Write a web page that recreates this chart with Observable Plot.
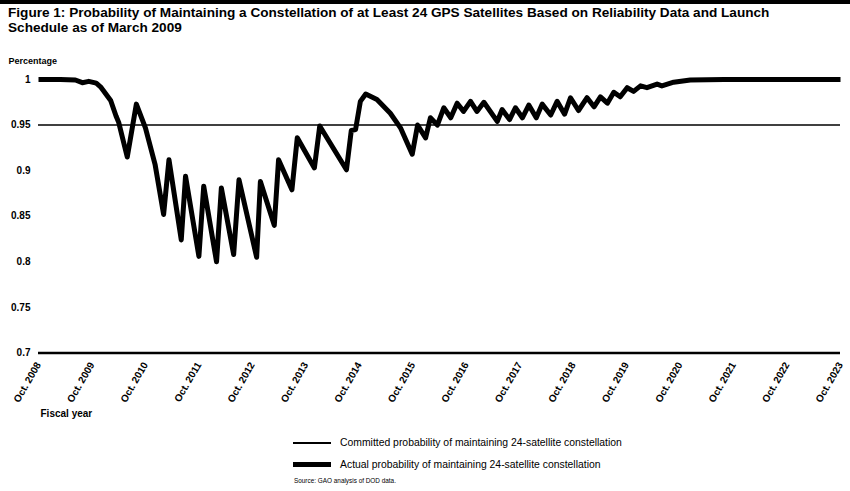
<!DOCTYPE html>
<html><head><meta charset="utf-8">
<script src="https://cdn.jsdelivr.net/npm/d3@7"></script>
<script src="https://cdn.jsdelivr.net/npm/@observablehq/plot@0.6"></script>
<style>
body{margin:0;background:#fff;font-family:"Liberation Sans",Arial,sans-serif;color:#000;}
#wrap{position:relative;width:850px;height:491px;overflow:hidden;background:#fff;}
#bar{position:absolute;left:0;top:0;width:850px;height:4px;background:#000;}
#title{position:absolute;left:8px;top:5px;font-weight:bold;font-size:13.6px;line-height:15px;white-space:nowrap;}
#chart{position:absolute;left:0;top:44px;}
#chart svg text{font-weight:bold;}
.lgline{position:absolute;left:293px;width:38px;background:#000;}
.lgtext{position:absolute;left:340px;font-size:10.4px;line-height:12px;white-space:nowrap;}
#source{position:absolute;left:294px;top:476px;font-size:6.4px;line-height:10px;white-space:nowrap;}
</style></head><body>
<div id="wrap">
  <div id="bar"></div>
  <div id="title">Figure 1: Probability of Maintaining a Constellation of at Least 24 GPS Satellites Based on Reliability Data and Launch<br>Schedule as of March 2009</div>
  <div id="chart"></div>
  <div class="lgline" style="top:442px;height:1.5px"></div>
  <div class="lgtext" style="top:437px">Committed probability of maintaining 24-satellite constellation</div>
  <div class="lgline" style="top:462px;height:5px"></div>
  <div class="lgtext" style="top:459px">Actual probability of maintaining 24-satellite constellation</div>
  <div id="source">Source: GAO analysis of DOD data.</div>
</div>
<script>
// Time in decimal years (Oct. 2008 = 2008.75)
const years = [2008.75, 2009.16, 2009.44, 2009.57, 2009.69, 2009.83, 2009.91, 2010.10, 2010.20, 2010.25, 2010.41,
  2010.58, 2010.75, 2010.93, 2011.09, 2011.19, 2011.42, 2011.50, 2011.75, 2011.84, 2012.08,
  2012.17, 2012.40, 2012.50, 2012.83, 2012.90, 2013.16, 2013.24, 2013.49, 2013.59, 2013.91,
  2014.01, 2014.51, 2014.60, 2014.68, 2014.77, 2014.87, 2015.08, 2015.33, 2015.52, 2015.74,
  2015.84, 2015.99, 2016.08, 2016.21, 2016.33, 2016.46, 2016.58, 2016.70, 2016.83, 2016.95,
  2017.08, 2017.33, 2017.42, 2017.56, 2017.67, 2017.80, 2017.92, 2018.06, 2018.17, 2018.33,
  2018.45, 2018.59, 2018.70, 2018.85, 2019.01, 2019.14, 2019.26, 2019.39, 2019.51, 2019.63,
  2019.76, 2019.88, 2020.01, 2020.13, 2020.32, 2020.41, 2020.63, 2020.94, 2021.57, 2023.75];
const actual = [1.000, 1.000, 0.9995, 0.9965, 0.998, 0.996, 0.992, 0.977, 0.960, 0.953, 0.915,
  0.973, 0.947, 0.907, 0.852, 0.912, 0.824, 0.894, 0.806, 0.883, 0.800,
  0.881, 0.808, 0.890, 0.805, 0.888, 0.840, 0.912, 0.879, 0.936, 0.903,
  0.949, 0.901, 0.944, 0.945, 0.976, 0.984, 0.978, 0.963, 0.947, 0.918,
  0.950, 0.936, 0.958, 0.950, 0.969, 0.958, 0.974, 0.965, 0.976, 0.965,
  0.975, 0.954, 0.967, 0.956, 0.969, 0.958, 0.972, 0.958, 0.973, 0.961,
  0.976, 0.962, 0.980, 0.966, 0.980, 0.970, 0.981, 0.974, 0.986, 0.981,
  0.991, 0.987, 0.993, 0.991, 0.995, 0.993, 0.997, 0.9995, 1.000, 1.000];
const committed = 0.95;
const yTicks = [0.7, 0.75, 0.8, 0.85, 0.9, 0.95, 1];
const yTickLabels = ["0.7", "0.75", "0.8", "0.85", "0.9", "0.95", "1"];
const tickYears = [2008, 2009, 2010, 2011, 2012, 2013, 2014, 2015, 2016, 2017, 2018, 2019, 2020, 2021, 2022, 2023];
const tickLabels = tickYears.map(y => "Oct. " + y);

const data = years.map((t, i) => ({t, p: actual[i]}));

const chart = Plot.plot({
  width: 850,
  height: 380,
  marginLeft: 38,
  marginRight: 10,
  marginTop: 35,
  marginBottom: 71.5,
  style: {fontFamily: "'Liberation Sans', Arial, sans-serif", fontSize: "10px", background: "#fff", color: "#000", overflow: "visible"},
  x: {domain: [2008.75, 2023.75]},
  y: {domain: [0.7, 1]},
  marks: [
    Plot.axisX({ticks: tickYears.map(y => y + 0.75), tickFormat: (d, i) => tickLabels[i], tickRotate: -60, tickSize: 0, tickPadding: 10, label: null, fontSize: 10}),
    Plot.axisY({ticks: yTicks, tickFormat: (d, i) => yTickLabels[i], tickSize: 0, tickPadding: 8, label: null, fontSize: 10}),
    Plot.ruleY([0.7], {stroke: "#000", strokeWidth: 2.5}),
    Plot.ruleY([committed], {stroke: "#000", strokeWidth: 1.5}),
    Plot.line(data, {x: "t", y: "p", stroke: "#000", strokeWidth: 5, strokeLinejoin: "round", strokeLinecap: "butt"}),
    Plot.text(["Percentage"], {frameAnchor: "top-left", text: d => d, textAnchor: "start", dx: -30, dy: -22, fontSize: 9, fontWeight: "bold"}),
    Plot.text(["Fiscal year"], {frameAnchor: "bottom-left", text: d => d, textAnchor: "start", dx: 2, dy: 64, fontSize: 10, fontWeight: "bold"})
  ]
});
document.getElementById("chart").appendChild(chart);
</script>
</body></html>
